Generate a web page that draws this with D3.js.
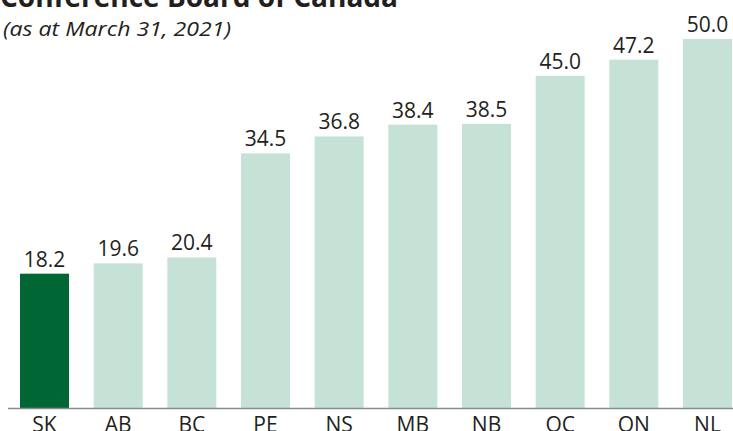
<!DOCTYPE html>
<html>
<head>
<meta charset="utf-8">
<script src="https://cdn.jsdelivr.net/npm/d3@7"></script>
<style>
  body { margin: 0; background: #fff; }
  svg { display: block; }
  text { font-family: "Open Sans", "Noto Sans", sans-serif; fill: #231f20; }
</style>
</head>
<body>
<div id="chart"></div>
<script>
// provinces, sorted as in the original
var provinces = ["SK", "AB", "BC", "PE", "NS", "MB", "NB", "QC", "ON", "NL"];
var values = [18.2, 19.6, 20.4, 34.5, 36.8, 38.4, 38.5, 45.0, 47.2, 50.0];
var highlight = "SK";

var ctx = {
    w: 733,
    h: 431,
    baseY: 408,
    topY: 39,
    left: 20,
    right: 732,
    DARK: "#006633",
    LIGHT: "#c6e2d6",
    AXIS: "#8a8a8a"
};

var svgEl = d3.select("#chart").append("svg")
    .attr("width", ctx.w)
    .attr("height", ctx.h);

var x = d3.scaleBand()
    .domain(provinces)
    .range([ctx.left, ctx.right])
    .paddingInner(0.335)
    .paddingOuter(0);

var y = d3.scaleLinear()
    .domain([0, 50])
    .range([ctx.baseY, ctx.topY]);

// title (cut off at the top in the original)
svgEl.append("text")
    .attr("x", 0)
    .attr("y", 7)
    .attr("font-size", "28px")
    .attr("font-weight", "bold")
    .attr("textLength", 398)
    .attr("lengthAdjust", "spacingAndGlyphs")
    .text("Conference Board of Canada");

svgEl.append("text")
    .attr("x", 3)
    .attr("y", 36)
    .attr("font-size", "20.5px")
    .attr("font-style", "italic")
    .attr("textLength", 228)
    .attr("lengthAdjust", "spacingAndGlyphs")
    .text("(as at March 31, 2021)");

// bars
svgEl.selectAll("rect.bar")
    .data(provinces)
    .enter()
    .append("rect")
    .attr("class", "bar")
    .attr("x", (d) => x(d))
    .attr("width", x.bandwidth())
    .attr("y", (d, i) => y(values[i]))
    .attr("height", (d, i) => ctx.baseY - y(values[i]))
    .attr("fill", (d) => (d === highlight ? ctx.DARK : ctx.LIGHT));

// value labels
svgEl.selectAll("text.val")
    .data(provinces)
    .enter()
    .append("text")
    .attr("class", "val")
    .attr("x", (d) => x(d) + x.bandwidth() / 2)
    .attr("y", (d, i) => y(values[i]) - 7)
    .attr("text-anchor", "middle")
    .attr("font-size", "21px")
    .text((d, i) => values[i].toFixed(1));

// baseline
svgEl.append("line")
    .attr("x1", 8)
    .attr("x2", ctx.w)
    .attr("y1", ctx.baseY + 0.5)
    .attr("y2", ctx.baseY + 0.5)
    .attr("stroke", ctx.AXIS)
    .attr("stroke-width", 1.5);

// category axis
var axisG = svgEl.append("g")
    .attr("transform", "translate(0," + ctx.baseY + ")")
    .call(d3.axisBottom(x).tickSize(0).tickPadding(0));
axisG.select(".domain").remove();
axisG.selectAll("text")
    .attr("dy", null)
    .attr("y", 24)
    .attr("font-size", "21px")
    .attr("font-family", "Open Sans, Noto Sans, sans-serif")
    .attr("fill", "#231f20");
</script>
</body>
</html>
